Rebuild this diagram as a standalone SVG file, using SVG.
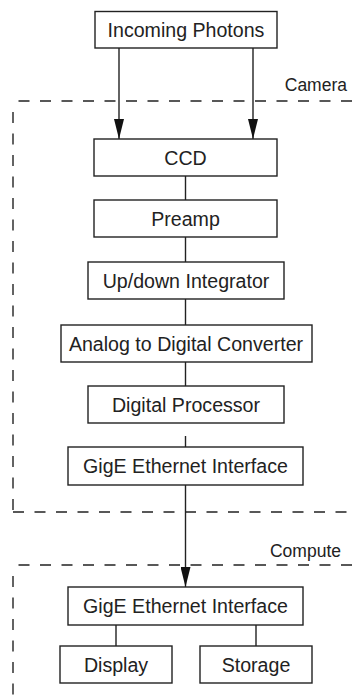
<svg xmlns="http://www.w3.org/2000/svg" width="352" height="696" viewBox="0 0 352 696">
<defs>
<style>
.box{fill:#fff;stroke:#222;stroke-width:1.4}
.lbl{font-family:"Liberation Sans",Arial,sans-serif;font-size:19.6px;fill:#222;text-anchor:middle}
.grp{font-family:"Liberation Sans",Arial,sans-serif;font-size:17.5px;fill:#222;text-anchor:end}
.ln{stroke:#222;stroke-width:1.4;fill:none}
.dash{stroke:#222;stroke-width:1.4;fill:none;stroke-dasharray:11 10.5}
</style>
<marker id="ah" markerUnits="userSpaceOnUse" markerWidth="20" markerHeight="10" refX="20" refY="5" viewBox="0 0 20 10" orient="auto">
<path d="M0,0 L20,5 L0,10 Z" fill="#111"/>
</marker>
</defs>
<rect width="352" height="696" fill="#fff"/>
<g id="boundaries">
<path class="dash" d="M352,101 H13"/>
<path class="dash" d="M13,112 V512"/>
<path class="dash" d="M13,512 H352"/>
<text class="grp" x="347" y="91">Camera</text>
<path class="dash" d="M352,565 H13"/>
<path class="dash" d="M13,576 V696"/>
<text class="grp" x="341" y="557">Compute</text>
</g>
<g id="connectors">
<line class="ln" x1="119" y1="48" x2="119" y2="139" marker-end="url(#ah)"/>
<line class="ln" x1="253" y1="48" x2="253" y2="139" marker-end="url(#ah)"/>
<line class="ln" x1="185.5" y1="176" x2="185.5" y2="200"/>
<line class="ln" x1="185.5" y1="237" x2="185.5" y2="262"/>
<line class="ln" x1="185.5" y1="299" x2="185.5" y2="325"/>
<line class="ln" x1="185.5" y1="362" x2="185.5" y2="386"/>
<line class="ln" x1="185.5" y1="436" x2="185.5" y2="447"/>
<line class="ln" x1="185.5" y1="485" x2="185.5" y2="587" marker-end="url(#ah)"/>
<line class="ln" x1="116" y1="625" x2="116" y2="646"/>
<line class="ln" x1="256" y1="625" x2="256" y2="646"/>
</g>
<g id="incoming"><rect class="box" x="95" y="11.5" width="182" height="36.5"/><text class="lbl" x="186" y="36.5">Incoming Photons</text></g>
<g id="ccd"><rect class="box" x="94" y="139" width="183" height="37"/><text class="lbl" x="185.5" y="164.5">CCD</text></g>
<g id="preamp"><rect class="box" x="94" y="200" width="183" height="37"/><text class="lbl" x="185.5" y="225.5">Preamp</text></g>
<g id="integrator"><rect class="box" x="88" y="262" width="196" height="37"/><text class="lbl" x="186" y="287.5">Up/down Integrator</text></g>
<g id="adc"><rect class="box" x="61" y="325" width="251" height="37"/><text class="lbl" x="186" y="350.5">Analog to Digital Converter</text></g>
<g id="dsp"><rect class="box" x="88" y="386" width="196" height="37"/><text class="lbl" x="186" y="411.5">Digital Processor</text></g>
<g id="gige-camera"><rect class="box" x="68" y="447" width="235" height="38"/><text class="lbl" x="185.5" y="473">GigE Ethernet Interface</text></g>
<g id="gige-compute"><rect class="box" x="68" y="587" width="235" height="38"/><text class="lbl" x="185.5" y="613">GigE Ethernet Interface</text></g>
<g id="display"><rect class="box" x="60" y="646" width="112" height="37"/><text class="lbl" x="116" y="671.5">Display</text></g>
<g id="storage"><rect class="box" x="200" y="646" width="112" height="37"/><text class="lbl" x="256" y="671.5">Storage</text></g>
</svg>
